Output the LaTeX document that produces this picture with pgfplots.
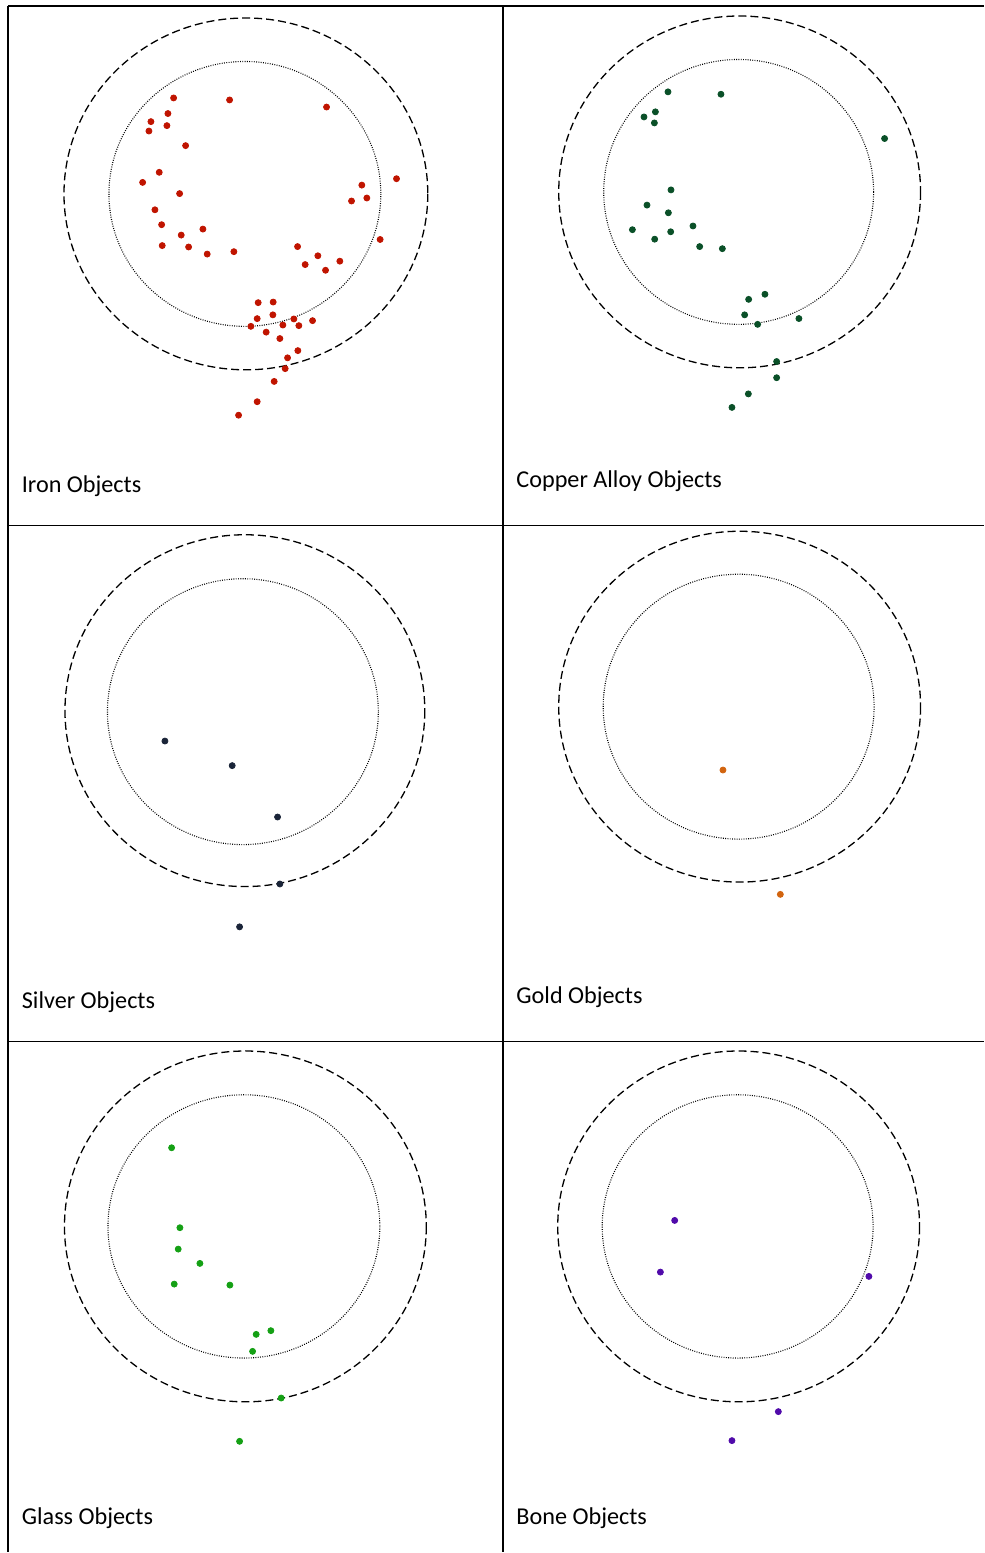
\documentclass[border=0pt]{standalone}
\usepackage{pgfplots}
\pgfplotsset{compat=1.18}
\usepackage{fontspec}
\setmainfont{Carlito}
\definecolor{ironc}{RGB}{192,20,0}
\definecolor{copperc}{RGB}{10,80,40}
\definecolor{silverc}{RGB}{26,36,56}
\definecolor{goldc}{RGB}{210,100,15}
\definecolor{glassc}{RGB}{20,160,20}
\definecolor{bonec}{RGB}{80,10,170}
\begin{document}
\begin{tikzpicture}
\begin{axis}[
  scale only axis, width=492pt, height=776.5pt,
  xmin=0, xmax=984, ymin=0, ymax=1553, y dir=reverse,
  hide axis, clip=false,
  every axis plot/.append style={only marks, mark=*, mark size=1.5pt},
]
\path (axis cs:0,0) rectangle (axis cs:984,1553);
% table grid
\draw[line width=0.75pt] (axis cs:8,6) -- (axis cs:8,1553);
\draw[line width=0.75pt] (axis cs:503,6) -- (axis cs:503,1553);
\draw[line width=0.75pt] (axis cs:8,6) -- (axis cs:984,6);
\draw[line width=0.75pt] (axis cs:8,526) -- (axis cs:984,526);
\draw[line width=0.75pt] (axis cs:8,1042) -- (axis cs:984,1042);
% circles
\tikzset{outerc/.style={line width=0.65pt, dash pattern=on 4pt off 2pt},
         innerc/.style={line width=0.55pt, dash pattern=on 0.45pt off 0.7pt}}
\draw[outerc] (axis cs:246,194) ellipse [x radius=182, y radius=176];
\draw[innerc] (axis cs:245,194) ellipse [x radius=136, y radius=132.5];
\draw[outerc] (axis cs:740,192) ellipse [x radius=181, y radius=176];
\draw[innerc] (axis cs:739,192) ellipse [x radius=135, y radius=132.5];
\draw[outerc] (axis cs:245,711) ellipse [x radius=180, y radius=176];
\draw[innerc] (axis cs:243,712) ellipse [x radius=135.5, y radius=133];
\draw[outerc] (axis cs:740,707) ellipse [x radius=181, y radius=175.5];
\draw[innerc] (axis cs:739,707) ellipse [x radius=135.5, y radius=132.5];
\draw[outerc] (axis cs:245.5,1227) ellipse [x radius=181, y radius=175.5];
\draw[innerc] (axis cs:244,1227) ellipse [x radius=136, y radius=131.7];
\draw[outerc] (axis cs:739,1227) ellipse [x radius=181, y radius=175.5];
\draw[innerc] (axis cs:738,1227) ellipse [x radius=135.5, y radius=131.7];
% Iron
\addplot[color=ironc] coordinates {
(173.7,98.0) (229.7,100.0) (326.7,107.1) (168,113.6) (151,121.7) (167,125.7)
(149,131.1) (185.7,145.7) (159.3,172.4) (142.7,182.5) (179.7,193.7) (396.7,178.8)
(362,185.2) (367,198.1) (351.7,201.1) (155,209.9) (161.7,224.8) (203,229.2)
(181.3,235.2) (162.3,245.7) (188.7,247.1) (207.3,254.2) (234,251.8) (380.3,239.6)
(297.7,246.7) (318,255.9) (340,261.3) (305.3,264.7) (325.7,270.4) (258.3,302.8)
(273.3,302.2) (257.3,318.8) (273,315) (294,319.1) (312.7,320.8) (251,326.5)
(283,325.2) (299,325.8) (266.3,332.3) (280,338.7) (298,350.8) (287.7,358)
(285.3,368.8) (274.3,381.6) (257.3,401.9) (238.7,415.4)
};
% Copper alloy
\addplot[color=copperc] coordinates {
(668.3,91.9) (721.3,94.3) (655.7,111.9) (644.3,117) (654.7,123) (885,138.6)
(671.3,190) (647.3,205.2) (668.7,212.9) (693.3,226.1) (632.7,229.8) (671,231.9)
(655,239.3) (700,246.7) (722.7,248.8) (765.3,294.4) (749,299.5) (745,315)
(799.3,318.7) (758,324.5) (777,361.7) (777,377.9) (748.7,394.1) (732.3,407.6)
};
% Silver
\addplot[color=silverc] coordinates {
(165,741.4) (232.3,766) (277.7,817.4) (280,884.4) (239.7,927.3)
};
% Gold
\addplot[color=goldc] coordinates {
(723.3,770.4) (780.7,894.8)
};
% Glass
\addplot[color=glassc] coordinates {
(171.7,1148.3) (180,1228.3) (178.3,1249.7) (200,1264) (174.3,1284.7) (230,1285.7)
(271,1331.3) (256.3,1335) (252.7,1352) (281.3,1398.7) (239.7,1442)
};
% Bone
\addplot[color=bonec] coordinates {
(675,1221) (660.7,1272.7) (869.3,1277) (778.7,1412.3) (732.3,1441.3)
};
% labels
\tikzset{lab/.style={anchor=base west, inner sep=0pt, font=\fontsize{12.1}{14.5}\selectfont}}
\node[lab] at (axis cs:21.5,492.3) {Iron Objects};
\node[lab] at (axis cs:516.3,487.5) {Copper Alloy Objects};
\node[lab] at (axis cs:21.5,1009) {Silver Objects};
\node[lab] at (axis cs:516.3,1004) {Gold Objects};
\node[lab] at (axis cs:21.5,1525) {Glass Objects};
\node[lab] at (axis cs:516.3,1525) {Bone Objects};
\end{axis}
\end{tikzpicture}
\end{document}
